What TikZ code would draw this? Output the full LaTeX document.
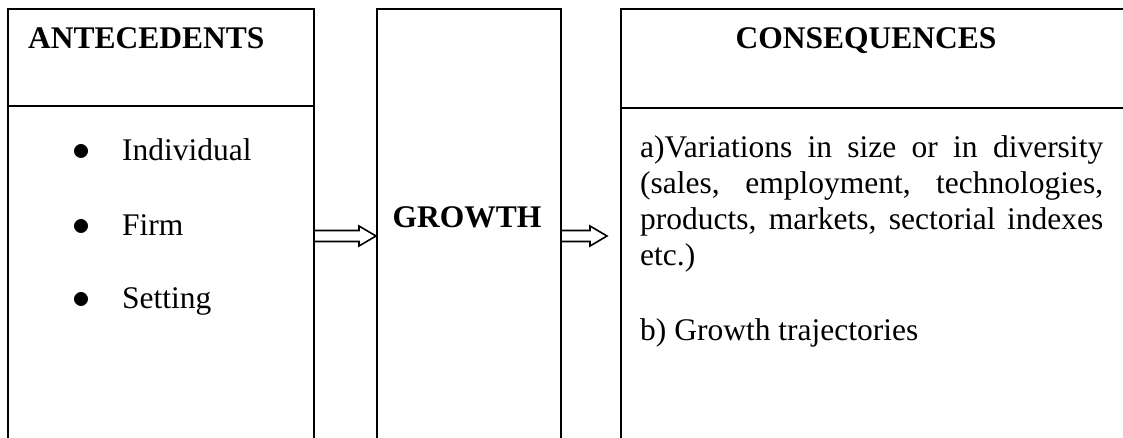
\documentclass[tikz,border=0pt]{standalone}
\usepackage{fontspec}
\setmainfont{Liberation Serif}
\usepackage{tikz}
\usetikzlibrary{calc,positioning}
\tikzset{%
  caixa/.style={draw=black,line width=2pt,minimum width=#1,minimum height=454pt,anchor=north west,inner sep=0pt},
  divisoria/.style={draw=black,line width=1.8pt},
  titulo/.style={font=\fontsize{31.5}{36}\selectfont\bfseries,inner sep=0pt,anchor=base},
  texto/.style={font=\fontsize{31.5}{36}\selectfont,inner sep=0pt,anchor=base west},
  seta/.style={draw=black,line width=1.6pt,line join=miter,
    to path={($(\tikztostart)+(0,5.5)$) -- ($(\tikztotarget)+(-17,5.5)$) -- ($(\tikztotarget)+(-17,10)$) -- (\tikztotarget) -- ($(\tikztotarget)+(-17,-10)$) -- ($(\tikztotarget)+(-17,-5.5)$) -- ($(\tikztostart)+(0,-5.5)$)}}
}

\begin{document}
\begin{tikzpicture}[x=1pt,y=-1pt]
  \useasboundingbox (0,0) rectangle (1123,437);
  \clip (0,0) rectangle (1123,437);
  % caixas
  \node[caixa=306pt] (ante) at (7,8) {};
  \node[caixa=184pt] (grow) at (376,8) {};
  \node[caixa=520pt] (cons) at (620,8) {};
  \draw[divisoria] ([yshift=-98pt]ante.north west) -- ([yshift=-98pt]ante.north east);
  \draw[divisoria] ([yshift=-100pt]cons.north west) -- ([yshift=-100pt]cons.north east);
  % titulos
  \node[titulo,anchor=base west] (tante) at (28,48) {ANTECEDENTS};
  \node[titulo] (tgrow) at (467,227) {GROWTH};
  \node[titulo] (tcons) at (866,48) {CONSEQUENCES};
  % itens
  \foreach \y/\nome/\txt in {160/ind/Individual,235/firm/Firm,308/sett/Setting}
    \node[texto] (\nome) at (72,\y) {\makebox[50pt][l]{\raisebox{-0.5pt}{\scalebox{1.45}{$\bullet$}}}\txt};
  \node[texto,text width=463pt,align=justify] (vari) at (640,157) {a)Variations in size or in diversity (sales, employment, technologies, products, markets, sectorial indexes etc.)};
  \node[texto] (traj) at (640,340) {b) Growth trajectories};
  % setas
  \draw[seta] (ante.east) to (grow.west);
  \draw[seta] (grow.east) to ([xshift=-13pt]cons.west);
\end{tikzpicture}
\end{document}
